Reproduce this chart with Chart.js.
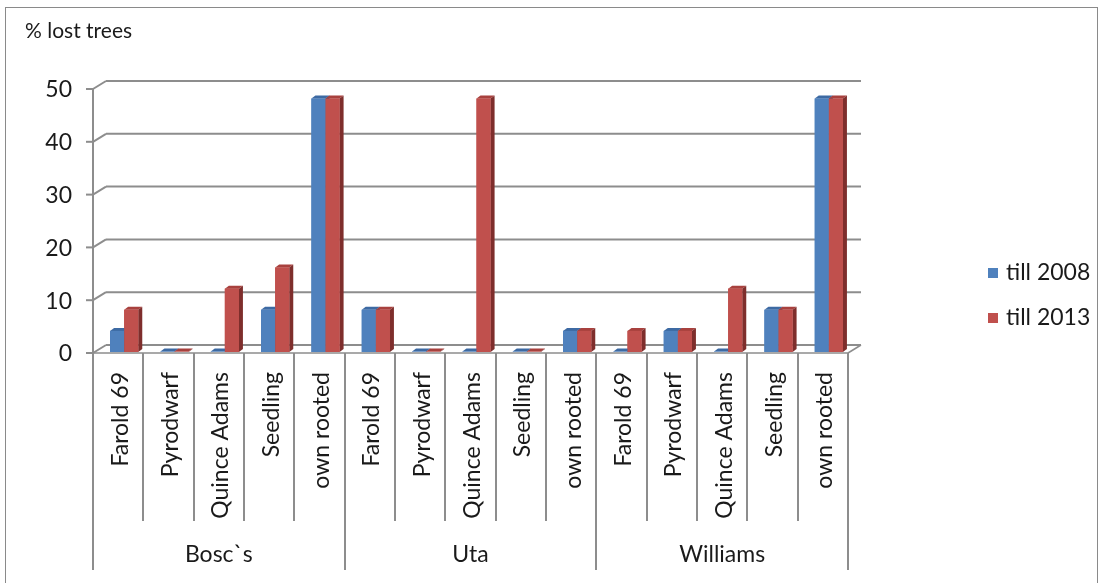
<!DOCTYPE html>
<html>
<head>
<meta charset="utf-8">
<title>% lost trees</title>
<script src="https://cdn.jsdelivr.net/npm/chart.js@4/dist/chart.umd.min.js"></script>
<style>
  html, body { margin: 0; padding: 0; background: #fff; }
  canvas { display: block; }
</style>
</head>
<body>
<canvas id="chart" width="1106" height="583"></canvas>
<script>
// Pear rootstock trial: share of lost trees per cultivar / rootstock

const groups = ['Bosc`s', 'Uta', 'Williams'];
const rootstocks = ['Farold 69', 'Pyrodwarf', 'Quince Adams', 'Seedling', 'own rooted'];
const seriesNames = ['till 2008', 'till 2013'];
const till2008 = [4, 0, 0, 8, 48, 8, 0, 0, 0, 4, 0, 4, 0, 8, 48];
const till2013 = [8, 0, 12, 16, 48, 8, 0, 48, 0, 4, 4, 4, 12, 8, 48];
const yTicks = [0, 10, 20, 30, 40, 50];

const categories = groups.flatMap(() => rootstocks);

const FONT = 'Lato, "Open Sans", sans-serif';
const TEXT = '#1a1a1a';
const GRID = '#8d8d8d';
const COLORS = [
  { front: '#4f81bd', top: '#3d6aa3', side: '#2c4e7c' },
  { front: '#c0504d', top: '#a8413e', side: '#7e2e2c' }
];

// offsets of the front plane (axis) and back wall relative to the bar plane
const FRONT = { dx: -6, dy: 1 };
const BACK = { dx: 7, dy: -7 };
const DEPTH = { dx: 4, dy: -3 };

function line(ctx, x1, y1, x2, y2) {
  ctx.beginPath();
  ctx.moveTo(x1, y1);
  ctx.lineTo(x2, y2);
  ctx.stroke();
}

const framePlugin = {
  id: 'frame',
  beforeDatasetsDraw(chart) {
    const ctx = chart.ctx;
    const area = chart.chartArea;
    const x = chart.scales.x;
    const y = chart.scales.y;
    const n = categories.length;
    const step = (area.right - area.left) / n;
    const fl = area.left + FRONT.dx, fr = area.right + FRONT.dx;
    const bl = area.left + BACK.dx, br = area.right + BACK.dx;

    ctx.save();
    // outer border
    ctx.strokeStyle = '#8a8a8a';
    ctx.lineWidth = 1;
    ctx.strokeRect(5.5, 7.5, 1092, 600);

    // back wall gridlines + left wall diagonals
    ctx.strokeStyle = GRID;
    ctx.lineWidth = 2;
    yTicks.forEach(v => {
      const py = y.getPixelForValue(v);
      line(ctx, bl, py + BACK.dy, br, py + BACK.dy);
      line(ctx, fl, py + FRONT.dy, bl, py + BACK.dy);
      line(ctx, fl - 7, py + FRONT.dy, fl, py + FRONT.dy);
    });
    // left axis edge
    line(ctx, fl, y.getPixelForValue(50) + FRONT.dy, fl, y.getPixelForValue(0) + FRONT.dy);

    // floor
    const y0 = y.getPixelForValue(0);
    ctx.lineWidth = 1.5;
    line(ctx, fl, y0 + FRONT.dy, fr, y0 + FRONT.dy);
    line(ctx, fr, y0 + FRONT.dy, br, y0 + BACK.dy);

    // y tick labels
    ctx.fillStyle = TEXT;
    ctx.font = '23px ' + FONT;
    ctx.textAlign = 'right';
    ctx.textBaseline = 'middle';
    yTicks.forEach(v => {
      ctx.fillText(String(v), fl - 21, y.getPixelForValue(v) + FRONT.dy + 1);
    });

    // title
    ctx.textAlign = 'left';
    ctx.textBaseline = 'alphabetic';
    ctx.font = '21px ' + FONT;
    ctx.fillText('% lost trees', 25, 38);

    // category dividers
    ctx.strokeStyle = GRID;
    ctx.lineWidth = 2;
    const top = y0 + FRONT.dy;
    for (let i = 0; i <= n; i++) {
      const px = Math.round(fl + i * step);
      line(ctx, px, top, px, i % rootstocks.length === 0 ? 570 : 521);
    }

    // rotated category labels
    ctx.font = '23px ' + FONT;
    ctx.textAlign = 'right';
    ctx.textBaseline = 'middle';
    categories.forEach((c, i) => {
      const px = x.getPixelForValue(i) + FRONT.dx + 2;
      ctx.save();
      ctx.translate(px, 372);
      ctx.rotate(-Math.PI / 2);
      ctx.fillText(c, 0, 0);
      ctx.restore();
    });

    // group labels
    ctx.textAlign = 'center';
    groups.forEach((g, gi) => {
      const a = x.getPixelForValue(gi * rootstocks.length) - step / 2;
      const b = x.getPixelForValue((gi + 1) * rootstocks.length - 1) + step / 2;
      ctx.fillText(g, (a + b) / 2 + FRONT.dx, 555);
    });

    // legend
    ctx.textAlign = 'left';
    seriesNames.forEach((s, i) => {
      const ly = 273 + i * 45;
      ctx.fillStyle = COLORS[i].front;
      ctx.fillRect(988, ly - 5, 10, 10);
      ctx.fillStyle = TEXT;
      ctx.fillText(s, 1006, ly);
    });
    ctx.restore();
  },
  afterDatasetsDraw(chart) {
    const ctx = chart.ctx;
    const metas = chart.data.datasets.map((d, i) => chart.getDatasetMeta(i));
    ctx.save();
    for (let i = 0; i < categories.length; i++) {
      metas.forEach((meta, di) => {
        const bar = meta.data[i];
        const p = bar.getProps(['x', 'y', 'base', 'width'], true);
        const x0 = p.x - p.width / 2, x1 = p.x + p.width / 2;
        const yt = Math.min(p.y, p.base - 0.5), yb = p.base;
        const c = COLORS[di];
        // top face
        ctx.fillStyle = c.top;
        ctx.beginPath();
        ctx.moveTo(x0, yt);
        ctx.lineTo(x1, yt);
        ctx.lineTo(x1 + DEPTH.dx, yt + DEPTH.dy);
        ctx.lineTo(x0 + DEPTH.dx, yt + DEPTH.dy);
        ctx.closePath();
        ctx.fill();
        // side face
        ctx.fillStyle = c.side;
        ctx.beginPath();
        ctx.moveTo(x1, yt);
        ctx.lineTo(x1 + DEPTH.dx, yt + DEPTH.dy);
        ctx.lineTo(x1 + DEPTH.dx, yb + DEPTH.dy);
        ctx.lineTo(x1, yb);
        ctx.closePath();
        ctx.fill();
        // front face, repainted so that it sits over the neighbour's side
        ctx.fillStyle = c.front;
        ctx.fillRect(x0, yt, x1 - x0, yb - yt);
      });
    }
    ctx.restore();
  }
};

new Chart(document.getElementById('chart'), {
  type: 'bar',
  data: {
    labels: categories,
    datasets: [
      { label: seriesNames[0], data: till2008, backgroundColor: COLORS[0].front },
      { label: seriesNames[1], data: till2013, backgroundColor: COLORS[1].front }
    ]
  },
  options: {
    responsive: false,
    animation: false,
    events: [],
    layout: { padding: { left: 99, right: 252, top: 88, bottom: 231 } },
    datasets: { bar: { categoryPercentage: 0.56, barPercentage: 1.0, borderWidth: 0 } },
    plugins: { legend: { display: false }, tooltip: { enabled: false } },
    scales: {
      x: { display: false, offset: true },
      y: { display: false, min: 0, max: 50 }
    }
  },
  plugins: [framePlugin]
});
</script>
</body>
</html>
